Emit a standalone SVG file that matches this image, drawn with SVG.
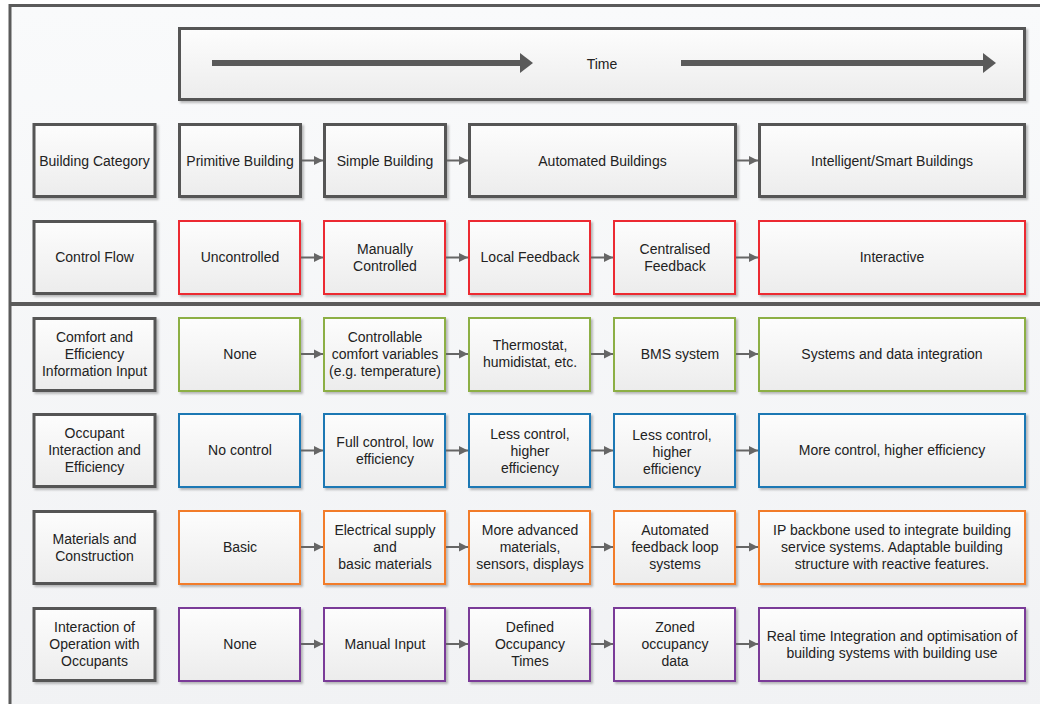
<svg xmlns="http://www.w3.org/2000/svg" width="1040" height="704" viewBox="0 0 1040 704">
<defs>
<linearGradient id="bf" x1="0" y1="0" x2="0" y2="1"><stop offset="0" stop-color="#fdfdfd"/><stop offset="1" stop-color="#ececec"/></linearGradient>
<linearGradient id="bg" x1="0" y1="0" x2="0" y2="1"><stop offset="0" stop-color="#f9fafb"/><stop offset="1" stop-color="#f1f2f4"/></linearGradient>
<filter id="sh" x="-5%" y="-5%" width="115%" height="120%"><feDropShadow dx="2" dy="2" stdDeviation="1.2" flood-color="#000" flood-opacity="0.25"/></filter>
<marker id="ar" markerUnits="userSpaceOnUse" markerWidth="9" markerHeight="10" refX="9" refY="5" orient="auto"><path d="M0,0.5 L9,5 L0,9.5 z" fill="#666"/></marker>
</defs>
<style>
text{font-family:"Liberation Sans",Arial,sans-serif;font-size:14px;fill:#222;text-anchor:middle}
.b{fill:url(#bf);filter:url(#sh)}
.lab{stroke:#555;stroke-width:3}
.red{stroke:#ec2a32;stroke-width:2}
.grn{stroke:#8caf45;stroke-width:2}
.blu{stroke:#1f78b4;stroke-width:2}
.org{stroke:#f27b2c;stroke-width:2}
.pur{stroke:#7a3b98;stroke-width:2}
.c line{stroke:#666;stroke-width:2;marker-end:url(#ar)}
</style>
<rect x="0" y="0" width="1040" height="704" fill="#fff"/>
<rect x="10" y="5.5" width="1040" height="710" fill="url(#bg)" stroke="#5a5a5a" stroke-width="3"/>
<line x1="10" y1="304" x2="1040" y2="304" stroke="#5a5a5a" stroke-width="4"/>

<g id="time">
<rect class="b lab" x="179.5" y="28.5" width="845" height="71"/>
<line x1="212" y1="63" x2="522" y2="63" stroke="#5a5a5a" stroke-width="6"/>
<path d="M520,53 L533,63 L520,73 z" fill="#5a5a5a"/>
<line x1="681" y1="63" x2="985" y2="63" stroke="#5a5a5a" stroke-width="6"/>
<path d="M983,53 L996,63 L983,73 z" fill="#5a5a5a"/>
<text x="602" y="69">Time</text>
</g>

<!-- Row 0 -->
<g id="r0-label"><rect class="b lab" x="34" y="124.5" width="121" height="72"/><text x="94.5" y="165.5">Building Category</text></g>
<g id="r0-c1"><rect class="b lab" x="179.5" y="124.5" width="121" height="72"/><text x="240" y="165.5">Primitive Building</text></g>
<g id="r0-c2"><rect class="b lab" x="324.5" y="124.5" width="121" height="72"/><text x="385" y="165.5">Simple Building</text></g>
<g id="r0-c3"><rect class="b lab" x="469.5" y="124.5" width="266" height="72"/><text x="602.5" y="165.5">Automated Buildings</text></g>
<g id="r0-c5"><rect class="b lab" x="759.5" y="124.5" width="265" height="72"/><text x="892" y="165.5">Intelligent/Smart Buildings</text></g>

<!-- Row 1 -->
<g id="r1-label"><rect class="b lab" x="34" y="221.5" width="121" height="72"/><text x="94.5" y="262">Control Flow</text></g>
<g id="r1-c1"><rect class="b red" x="179" y="221" width="121" height="73"/><text x="240" y="262">Uncontrolled</text></g>
<g id="r1-c2"><rect class="b red" x="324" y="221" width="121" height="73"/><text x="385" y="254">Manually</text><text x="385" y="271">Controlled</text></g>
<g id="r1-c3"><rect class="b red" x="469" y="221" width="121" height="73"/><text x="530" y="262">Local Feedback</text></g>
<g id="r1-c4"><rect class="b red" x="614" y="221" width="121" height="73"/><text x="675" y="254">Centralised</text><text x="675" y="271">Feedback</text></g>
<g id="r1-c5"><rect class="b red" x="759" y="221" width="266" height="73"/><text x="892" y="262">Interactive</text></g>

<!-- Row 2 -->
<g id="r2-label"><rect class="b lab" x="34" y="318.5" width="121" height="72"/><text x="94.5" y="342">Comfort and</text><text x="94.5" y="359">Efficiency</text><text x="94.5" y="376">Information Input</text></g>
<g id="r2-c1"><rect class="b grn" x="179" y="318" width="121" height="73"/><text x="240" y="359">None</text></g>
<g id="r2-c2"><rect class="b grn" x="324" y="318" width="121" height="73"/><text x="385" y="342">Controllable</text><text x="385" y="359">comfort variables</text><text x="385" y="376">(e.g. temperature)</text></g>
<g id="r2-c3"><rect class="b grn" x="469" y="318" width="121" height="73"/><text x="530" y="350">Thermostat,</text><text x="530" y="367">humidistat, etc.</text></g>
<g id="r2-c4"><rect class="b grn" x="614" y="318" width="121" height="73"/><text x="680" y="359">BMS system</text></g>
<g id="r2-c5"><rect class="b grn" x="759" y="318" width="266" height="73"/><text x="892" y="359">Systems and data integration</text></g>

<!-- Row 3 -->
<g id="r3-label"><rect class="b lab" x="34" y="414.5" width="121" height="72"/><text x="94.5" y="438">Occupant</text><text x="94.5" y="455">Interaction and</text><text x="94.5" y="472">Efficiency</text></g>
<g id="r3-c1"><rect class="b blu" x="179" y="414" width="121" height="73"/><text x="240" y="455">No control</text></g>
<g id="r3-c2"><rect class="b blu" x="324" y="414" width="121" height="73"/><text x="385" y="447">Full control, low</text><text x="385" y="464">efficiency</text></g>
<g id="r3-c3"><rect class="b blu" x="469" y="414" width="121" height="73"/><text x="530" y="439">Less control,</text><text x="530" y="456">higher</text><text x="530" y="473">efficiency</text></g>
<g id="r3-c4"><rect class="b blu" x="614" y="414" width="121" height="73"/><text x="672" y="440">Less control,</text><text x="672" y="457">higher</text><text x="672" y="474">efficiency</text></g>
<g id="r3-c5"><rect class="b blu" x="759" y="414" width="266" height="73"/><text x="892" y="455">More control, higher efficiency</text></g>

<!-- Row 4 -->
<g id="r4-label"><rect class="b lab" x="34" y="511.5" width="121" height="72"/><text x="94.5" y="544">Materials and</text><text x="94.5" y="561">Construction</text></g>
<g id="r4-c1"><rect class="b org" x="179" y="511" width="121" height="73"/><text x="240" y="552">Basic</text></g>
<g id="r4-c2"><rect class="b org" x="324" y="511" width="121" height="73"/><text x="385" y="535">Electrical supply</text><text x="385" y="552">and</text><text x="385" y="569">basic materials</text></g>
<g id="r4-c3"><rect class="b org" x="469" y="511" width="121" height="73"/><text x="530" y="535">More advanced</text><text x="530" y="552">materials,</text><text x="530" y="569">sensors, displays</text></g>
<g id="r4-c4"><rect class="b org" x="614" y="511" width="121" height="73"/><text x="675" y="535">Automated</text><text x="675" y="552">feedback loop</text><text x="675" y="569">systems</text></g>
<g id="r4-c5"><rect class="b org" x="759" y="511" width="266" height="73"/><text x="892" y="535">IP backbone used to integrate building</text><text x="892" y="552">service systems. Adaptable building</text><text x="892" y="569">structure with reactive features.</text></g>

<!-- Row 5 -->
<g id="r5-label"><rect class="b lab" x="34" y="608.5" width="121" height="72"/><text x="94.5" y="632">Interaction of</text><text x="94.5" y="649">Operation with</text><text x="94.5" y="666">Occupants</text></g>
<g id="r5-c1"><rect class="b pur" x="179" y="608" width="121" height="73"/><text x="240" y="649">None</text></g>
<g id="r5-c2"><rect class="b pur" x="324" y="608" width="121" height="73"/><text x="385" y="649">Manual Input</text></g>
<g id="r5-c3"><rect class="b pur" x="469" y="608" width="121" height="73"/><text x="530" y="632">Defined</text><text x="530" y="649">Occupancy</text><text x="530" y="666">Times</text></g>
<g id="r5-c4"><rect class="b pur" x="614" y="608" width="121" height="73"/><text x="675" y="632">Zoned</text><text x="675" y="649">occupancy</text><text x="675" y="666">data</text></g>
<g id="r5-c5"><rect class="b pur" x="759" y="608" width="266" height="73"/><text x="892" y="641">Real time Integration and optimisation of</text><text x="892" y="658">building systems with building use</text></g>

<g id="connectors" class="c">
<line x1="302" y1="160.5" x2="323" y2="160.5"/>
<line x1="447" y1="160.5" x2="468" y2="160.5"/>
<line x1="737" y1="160.5" x2="758" y2="160.5"/>

<line x1="301" y1="257.5" x2="323" y2="257.5"/>
<line x1="446" y1="257.5" x2="468" y2="257.5"/>
<line x1="591" y1="257.5" x2="613" y2="257.5"/>
<line x1="736" y1="257.5" x2="758" y2="257.5"/>

<line x1="301" y1="354" x2="323" y2="354"/>
<line x1="446" y1="354" x2="468" y2="354"/>
<line x1="591" y1="354" x2="613" y2="354"/>
<line x1="736" y1="354" x2="758" y2="354"/>

<line x1="301" y1="450.5" x2="323" y2="450.5"/>
<line x1="446" y1="450.5" x2="468" y2="450.5"/>
<line x1="591" y1="450.5" x2="613" y2="450.5"/>
<line x1="736" y1="450.5" x2="758" y2="450.5"/>

<line x1="301" y1="547" x2="323" y2="547"/>
<line x1="446" y1="547" x2="468" y2="547"/>
<line x1="591" y1="547" x2="613" y2="547"/>
<line x1="736" y1="547" x2="758" y2="547"/>

<line x1="301" y1="644" x2="323" y2="644"/>
<line x1="446" y1="644" x2="468" y2="644"/>
<line x1="591" y1="644" x2="613" y2="644"/>
<line x1="736" y1="644" x2="758" y2="644"/>
</g>
</svg>
